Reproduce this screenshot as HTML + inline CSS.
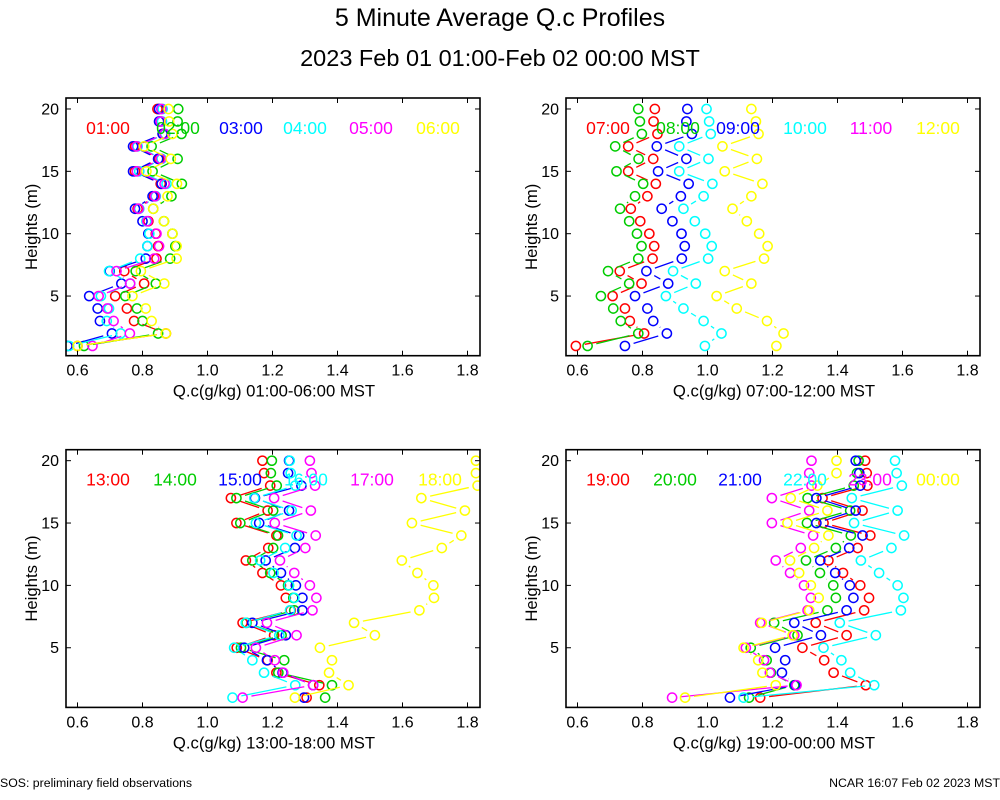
<!DOCTYPE html>
<html><head><meta charset="utf-8"><style>
html,body{margin:0;padding:0;background:#fff;}
svg{display:block;font-family:"Liberation Sans",sans-serif;}
</style></head><body>
<svg id="chart" width="1000" height="800" viewBox="0 0 1000 800" xmlns="http://www.w3.org/2000/svg">
<rect width="1000" height="800" fill="#fff"/>
<text x="500" y="26" text-anchor="middle" font-size="25">5 Minute Average Q.c Profiles</text>
<text x="500" y="66" text-anchor="middle" font-size="23.5">2023 Feb 01 01:00-Feb 02 00:00 MST</text>
<text x="0" y="787" font-size="12.3">SOS: preliminary field observations</text>
<text x="1000" y="787" text-anchor="end" font-size="12.3">NCAR 16:07 Feb 02 2023 MST</text>
</svg>
<script>
const heights = [1,2,3,4,5,6,7,8,9,10,11,12,13,14,15,16,17,18,19,20];
const xTicks = [0.6,0.8,1.0,1.2,1.4,1.6,1.8];
const xTickLabels = ["0.6","0.8","1.0","1.2","1.4","1.6","1.8"];
const yTicks = [5,10,15,20];
const yTickLabels = ["5","10","15","20"];
const colors = ["#ff0000","#00cc00","#0000ff","#00ffff","#ff00ff","#ffff00"];
const panelTitles = ["Q.c(g/kg) 01:00-06:00 MST","Q.c(g/kg) 07:00-12:00 MST","Q.c(g/kg) 13:00-18:00 MST","Q.c(g/kg) 19:00-00:00 MST"];
const panelHours = [["01:00","02:00","03:00","04:00","05:00","06:00"],["07:00","08:00","09:00","10:00","11:00","12:00"],["13:00","14:00","15:00","16:00","17:00","18:00"],["19:00","20:00","21:00","22:00","23:00","00:00"]];
// panel 1 series (h1..h20)
const s0100 = [0.600,0.872,0.774,0.752,0.716,0.805,0.744,0.843,0.848,0.841,0.818,0.785,0.836,0.856,0.777,0.851,0.777,0.862,0.856,0.846];
const s0200 = [0.620,0.848,0.800,0.783,0.747,0.841,0.779,0.885,0.901,0.892,0.866,0.833,0.889,0.921,0.831,0.908,0.828,0.920,0.908,0.910];
const s0300 = [0.569,0.706,0.669,0.662,0.636,0.735,0.699,0.810,0.815,0.818,0.800,0.777,0.831,0.859,0.771,0.848,0.771,0.862,0.851,0.851];
const s0400 = [0.574,0.733,0.690,0.697,0.672,0.762,0.697,0.793,0.815,0.821,0.812,0.790,0.841,0.874,0.790,0.859,0.785,0.870,0.860,0.862];
const s0500 = [0.646,0.761,0.711,0.692,0.665,0.762,0.720,0.836,0.851,0.843,0.815,0.788,0.839,0.868,0.783,0.856,0.782,0.868,0.856,0.858];
const s0600 = [0.600,0.872,0.828,0.810,0.769,0.867,0.795,0.905,0.905,0.892,0.866,0.833,0.877,0.906,0.812,0.887,0.805,0.892,0.882,0.880];
// panel 2
const s0700 = [0.595,0.805,0.761,0.746,0.708,0.797,0.730,0.831,0.836,0.821,0.793,0.764,0.815,0.841,0.756,0.833,0.756,0.846,0.834,0.838];
const s0800 = [0.631,0.787,0.733,0.710,0.672,0.759,0.694,0.787,0.797,0.783,0.759,0.731,0.777,0.802,0.720,0.788,0.716,0.798,0.792,0.787];
const s0900 = [0.746,0.875,0.833,0.815,0.777,0.879,0.812,0.921,0.930,0.920,0.892,0.859,0.918,0.942,0.848,0.935,0.844,0.952,0.935,0.938];
const s1000 = [0.992,1.043,0.988,0.926,0.872,0.964,0.894,1.002,1.013,0.993,0.961,0.926,0.988,1.015,0.913,1.003,0.913,1.010,1.005,0.997];
const s1100 = [];
const s1200 = [1.212,1.234,1.183,1.090,1.028,1.135,1.053,1.174,1.185,1.159,1.121,1.077,1.135,1.169,1.053,1.152,1.046,1.157,1.149,1.135];
// panel 3
const s1300 = [1.305,1.344,1.212,1.185,1.090,1.205,1.108,1.256,1.241,1.226,1.169,1.118,1.187,1.212,1.089,1.185,1.072,1.193,1.174,1.169];
const s1400 = [1.362,1.383,1.218,1.236,1.103,1.228,1.120,1.267,1.264,1.248,1.193,1.138,1.202,1.217,1.101,1.202,1.089,1.213,1.195,1.198];
const s1500 = [1.297,1.325,1.231,1.183,1.113,1.241,1.138,1.292,1.292,1.272,1.226,1.179,1.269,1.282,1.159,1.251,1.146,1.289,1.248,1.251];
const s1600 = [1.077,1.270,1.174,1.138,1.082,1.221,1.118,1.254,1.267,1.251,1.203,1.162,1.239,1.274,1.149,1.259,1.144,1.270,1.256,1.253];
const s1700 = [1.108,1.325,1.233,1.207,1.149,1.274,1.183,1.323,1.335,1.315,1.267,1.223,1.301,1.333,1.207,1.318,1.205,1.331,1.320,1.315];
const s1800 = [1.269,1.434,1.374,1.383,1.346,1.515,1.451,1.652,1.697,1.695,1.646,1.598,1.721,1.781,1.629,1.792,1.658,1.831,1.826,1.826];
// panel 4
const s1900 = [1.162,1.487,1.388,1.359,1.292,1.428,1.333,1.482,1.497,1.470,1.417,1.372,1.462,1.501,1.357,1.477,1.354,1.492,1.490,1.485];
const s2000 = [1.128,1.267,1.195,1.182,1.133,1.277,1.205,1.369,1.395,1.387,1.346,1.303,1.395,1.441,1.306,1.439,1.308,1.450,1.460,1.465];
const s2100 = [1.069,1.270,1.229,1.239,1.208,1.349,1.267,1.428,1.449,1.438,1.393,1.347,1.436,1.477,1.335,1.456,1.335,1.470,1.467,1.456];
const s2200 = [1.111,1.513,1.439,1.412,1.357,1.518,1.407,1.595,1.603,1.585,1.528,1.472,1.566,1.605,1.451,1.585,1.444,1.598,1.582,1.577];
const s2300 = [0.891,1.274,1.192,1.174,1.118,1.267,1.162,1.308,1.318,1.297,1.254,1.210,1.287,1.325,1.198,1.313,1.198,1.320,1.313,1.320];
const s0000 = [0.931,1.210,1.169,1.156,1.111,1.262,1.167,1.313,1.342,1.318,1.282,1.254,1.328,1.372,1.246,1.369,1.256,1.338,1.397,1.397];

const panelSeries = [[s0100,s0200,s0300,s0400,s0500,s0600],[s0700,s0800,s0900,s1000,s1100,s1200],[s1300,s1400,s1500,s1600,s1700,s1800],[s1900,s2000,s2100,s2200,s2300,s0000]];
const panelNames = ["panel-01-06","panel-07-12","panel-13-18","panel-19-00"];
const legendX = [[108,178,241,305,371,438],[108,178,238,305,371,438],[108,175,240,306,372,440],[108,175,240,305,370,438]];

const NS="http://www.w3.org/2000/svg";
const svg=document.getElementById('chart');
function mk(tag,attrs,parent){const e=document.createElementNS(NS,tag);for(const k in attrs)e.setAttribute(k,attrs[k]);(parent||svg).appendChild(e);return e;}
const X0=0.5646,X1=1.8385,Y0=0.217,Y1=20.88;
for(let p=0;p<4;p++){
  const ox=(p%2)*500, oy=Math.floor(p/2)*351.7;
  const L=66+ox,R=480+ox,T=98+oy,B=355.7+oy;
  const xs=v=>L+(v-X0)/(X1-X0)*(R-L);
  const ys=v=>B-(v-Y0)/(Y1-Y0)*(B-T);
  const g=mk('g',{});
  
  
  const clipId='clip'+p;
  const cp=mk('clipPath',{id:clipId},g);mk('rect',{x:L,y:T,width:R-L,height:B-T},cp);
  const dg=mk('g',{'clip-path':'url(#'+clipId+')'},g);
  panelSeries[p].forEach((ser,si)=>{
    const sg=mk('g',{},dg);
    
    
    const pts=ser.map((v,i)=>[xs(v),ys(heights[i])]);
    for(let i=0;i<pts.length-1;i++){
      const [x1,y1]=pts[i],[x2,y2]=pts[i+1];
      const dx=x2-x1,dy=y2-y1,d=Math.hypot(dx,dy),c=9;
      if(d>2*c){const ln=mk('line',{x1:x1+dx/d*c,y1:y1+dy/d*c,x2:x2-dx/d*c,y2:y2-dy/d*c,stroke:colors[si],'stroke-width':1.3},sg);
        
        }
    }
    pts.forEach(([x,y])=>{const c=mk('circle',{cx:x,cy:y,r:4.6,fill:'none',stroke:colors[si],'stroke-width':1.5},sg);
      
      });
  });
  panelHours[p].forEach((h,si)=>{const t=mk('text',{x:legendX[p][si]+ox,y:134+oy,'text-anchor':'middle','font-size':17.5,fill:colors[si]},g);t.textContent=h;
    
    });
  const fr=mk('rect',{x:L,y:T,width:R-L,height:B-T,fill:'none',stroke:'#000','stroke-width':1.6},g);
  
  
  xTicks.forEach((v,i)=>{const x=xs(v);
    mk('line',{x1:x,y1:B,x2:x,y2:B-5,stroke:'#000','stroke-width':1},g);
    mk('line',{x1:x,y1:T,x2:x,y2:T+5,stroke:'#000','stroke-width':1},g);
    const t=mk('text',{x:x,y:B+20,'text-anchor':'middle','font-size':16},g);t.textContent=xTickLabels[i];
    
    });
  yTicks.forEach((v,i)=>{const y=ys(v);
    mk('line',{x1:L,y1:y,x2:L+5,y2:y,stroke:'#000','stroke-width':1},g);
    mk('line',{x1:R,y1:y,x2:R-5,y2:y,stroke:'#000','stroke-width':1},g);
    const t=mk('text',{x:L-7,y:y+5.5,'text-anchor':'end','font-size':16},g);t.textContent=yTickLabels[i];
    
    });
  const xt=mk('text',{x:(L+R)/2+1,y:B+41,'text-anchor':'middle','font-size':16.7},g);xt.textContent=panelTitles[p];
  
  
  const yt=mk('text',{x:0,y:0,'text-anchor':'middle','font-size':16.7,transform:'translate('+(37+ox)+','+((T+B)/2)+') rotate(-90)'},g);yt.textContent='Heights (m)';
  
  
}
</script>
</body></html>
